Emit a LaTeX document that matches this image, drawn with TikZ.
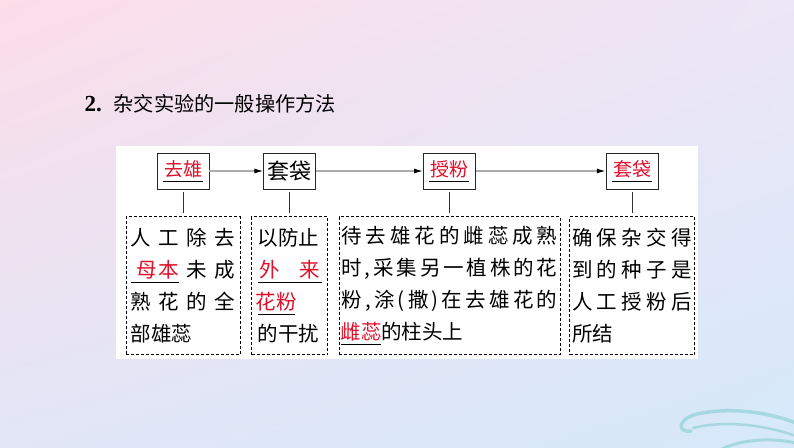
\documentclass[tikz,border=0pt]{standalone}
\usepackage{fontspec}
\setmainfont{Noto Sans CJK SC}
\newfontfamily\numfont{Liberation Serif}
\usepackage{xcolor}
\usetikzlibrary{arrows.meta, positioning, shadings}

\definecolor{bgpink}{HTML}{FCDDE8}
\definecolor{bglav}{HTML}{ECE6F6}
\definecolor{bglil}{HTML}{E2E6F7}
\definecolor{bgblue}{HTML}{D5E9FA}
\definecolor{wave}{HTML}{A6D8E1}
\definecolor{fillred}{HTML}{E0102A}

% red answer written on a black blank
\newcommand\blank[2]{\leavevmode\vtop{\hbox{\makebox[#1]{\textcolor{fillred}{#2}}}%
  \kern2.5pt{\color{black}\hrule height 0.9pt}}}
% spread a row of characters over a given width
\newcommand\spr[2]{\makebox[#1][s]{\sprfirst#2\relax}}
\def\sprfirst#1{#1\sprrest}
\def\sprrest#1{\ifx#1\relax\else\hfil#1\expandafter\sprrest\fi}

\begin{document}
\begin{tikzpicture}[x=1pt, y=-1pt,
    stepbox/.style={draw=black!85, line width=0.7pt, minimum width=52pt,
      minimum height=36pt, inner sep=0pt, font=\fontsize{19}{22}\selectfont},
    descbox/.style={draw, densely dashed, line width=0.6pt, below=27pt of #1,
      minimum height=138pt, inner ysep=0pt, align=left,
      font=\fontsize{20.5}{32}\selectfont},
    flow/.style={gray!65, line width=1.2pt, -{Latex[color=black, length=9pt, width=5pt]}},
    link/.style={black!80, line width=0.7pt, shorten <=3pt, shorten >=3pt}]
    \useasboundingbox (0,0) rectangle (794,447);
    \shade[upper left=bgpink, upper right=bglav, lower left=bglil, lower right=bgblue]
      (0,0) rectangle (794,447);

    % wave in the corner
    \draw[wave, line width=3.5pt, line cap=round]
      (691,431) .. controls (676,433) and (677,417) .. (702,413)
      .. controls (730,408) and (765,411) .. (796,423);
    \draw[wave, line width=2.5pt, line cap=round]
      (693,428) .. controls (725,420) and (765,425) .. (796,436);
    \draw[wave, line width=3pt, line cap=round]
      (722,449) .. controls (740,440) and (770,437) .. (796,443);

    \node[anchor=west, font=\fontsize{20.2}{24}\selectfont] (title) at (81,104)
      {{\numfont\fontsize{23}{24}\selectfont\bfseries 2.}\hspace{12pt}杂交实验的一般操作方法};

    \fill[white] (116,146) rectangle (698,359);

    % the four steps
    \node[stepbox] (s1) at (183,171) {\blank{40pt}{去雄}};
    \node[stepbox, right=54pt of s1, font=\fontsize{22}{24}\selectfont] (s2) {套袋};
    \node[stepbox, right=107pt of s2] (s3) {\blank{40pt}{授粉}};
    \node[stepbox, right=130pt of s3] (s4) {\blank{40pt}{套袋}};

    \draw[flow] (s1) -- (s2);
    \draw[flow] (s2) -- (s3);
    \draw[flow] (s3) -- (s4);

    % what each step means
    \node[descbox=s1, text width=105pt, inner xsep=4.5pt] (d1) {%
      \spr{105pt}{人工除去}\\
      \makebox[105pt][s]{\blank{48pt}{\hspace{6pt}母\hspace{2pt}本}\hfil 未\hfil 成}\\
      \spr{105pt}{熟花的全}\\
      部雄蕊};
    \node[descbox=s2, text width=64pt, inner xsep=6pt] (d2) {%
      以防止\\
      \blank{64pt}{\makebox[60pt][s]{外\hfil 来}}\\
      \blank{37pt}{花粉}\\
      的干扰};
    \node[descbox=s3, text width=216pt, inner xsep=2.5pt] (d3) {%
      \spr{216pt}{待去雄花的雌蕊成熟}\\
      \spr{216pt}{时,采集另一植株的花}\\
      \spr{216pt}{粉,涂(撒)在去雄花的}\\
      \blank{40pt}{雌蕊}的柱头上};
    \node[descbox=s4, text width=120pt, inner xsep=2.5pt] (d4) {%
      \spr{120pt}{确保杂交得}\\
      \spr{120pt}{到的种子是}\\
      \spr{120pt}{人工授粉后}\\
      所结};

    \draw[link] (s1) -- (d1);
    \draw[link] (s2) -- (d2);
    \draw[link] (s3) -- (d3);
    \draw[link] (s4) -- (d4);
\end{tikzpicture}
\end{document}
